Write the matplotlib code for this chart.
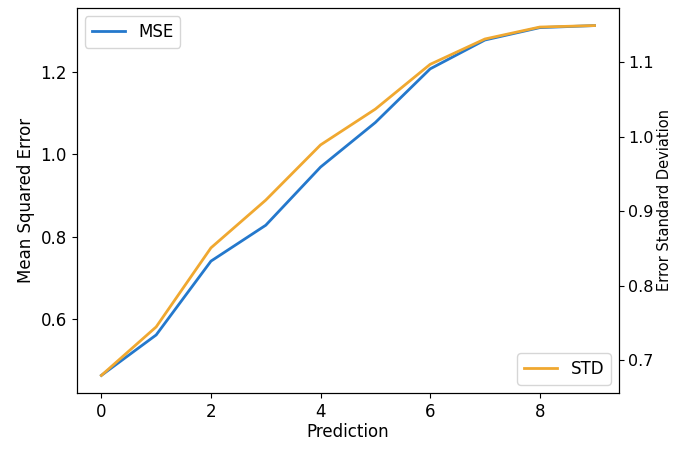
import matplotlib.pyplot as plt

prediction = [0, 1, 2, 3, 4, 5, 6, 7, 8, 9]
mse = [0.464, 0.562, 0.741, 0.828, 0.969, 1.077, 1.207, 1.277, 1.307, 1.312]
std = [0.680, 0.745, 0.851, 0.915, 0.989, 1.037, 1.097, 1.131, 1.147, 1.149]

plt.rcParams['font.size'] = 12

fig, ax = plt.subplots(figsize=(6.73, 4.49), dpi=100)
fig.subplots_adjust(left=0.114, right=0.92, top=0.982, bottom=0.125)

ax.plot(prediction, mse, color="#2478cc", lw=2, label="MSE")
ax.set_xlabel("Prediction", labelpad=2)
ax.set_ylabel("Mean Squared Error")
ax.set_yticks([0.6, 0.8, 1.0, 1.2])
ax.legend(loc="upper left")

ax2 = ax.twinx()
ax2.plot(prediction, std, color="#f0a830", lw=2, label="STD")
# label sits right at the figure edge, keep it small so it fits
ax2.set_ylabel("Error Standard Deviation", fontsize=10.5, labelpad=2)
ax2.tick_params(axis="y", labelsize=11.5, pad=3)
ax2.set_yticks([0.7, 0.8, 0.9, 1.0, 1.1])
ax2.legend(loc="lower right")

ax.set_xticks([0, 2, 4, 6, 8])

plt.savefig("out.png")
